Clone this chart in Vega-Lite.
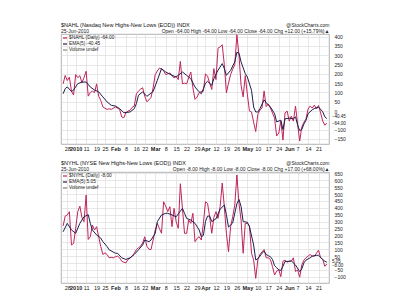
{
  "$schema": "https://vega.github.io/schema/vega-lite/v6.json",
  "padding": {"left": 60, "top": 21, "right": 0, "bottom": 0},
  "background": "white",
  "spacing": 7,
  "config": {
    "font": "Liberation Sans",
    "view": {"stroke": "#a0a0a0", "strokeWidth": 0.8},
    "axis": {"labelFontSize": 5.5, "labelColor": "#222222", "gridColor": "#dcdcdc", "gridWidth": 0.7, "domain": false, "ticks": false, "labelOverlap": false},
    "axisY": {"labelOverlap": false, "labelFontSize": 5},
    "legend": {"orient": "top-left", "offset": 0.5, "padding": 0, "rowPadding": 0, "labelFontSize": 4.8, "labelColor": "#222222", "symbolType": "stroke", "symbolSize": 16, "symbolStrokeWidth": 1.2, "labelOffset": 1, "title": null, "labelLimit": 200}
  },
  "resolve": {"scale": {"color": "independent", "x": "independent", "y": "independent"}, "legend": {"color": "independent"}},
  "datasets": {
    "nahl": [
      {"d":"2009-12-23","v":146},{"d":"2009-12-24","v":191},{"d":"2009-12-28","v":164},{"d":"2009-12-29","v":182},{"d":"2009-12-30","v":107},{"d":"2009-12-31","v":86},
      {"d":"2010-01-04","v":196},{"d":"2010-01-05","v":180},{"d":"2010-01-06","v":190},{"d":"2010-01-07","v":152},{"d":"2010-01-08","v":180},
      {"d":"2010-01-11","v":214},{"d":"2010-01-12","v":80},{"d":"2010-01-13","v":100},{"d":"2010-01-14","v":107},{"d":"2010-01-15","v":99},
      {"d":"2010-01-19","v":146},{"d":"2010-01-20","v":80},{"d":"2010-01-21","v":57},{"d":"2010-01-22","v":22},
      {"d":"2010-01-25","v":15},{"d":"2010-01-26","v":9},{"d":"2010-01-27","v":12},{"d":"2010-01-28","v":9},{"d":"2010-01-29","v":15},
      {"d":"2010-02-01","v":22},{"d":"2010-02-02","v":15},{"d":"2010-02-03","v":9},{"d":"2010-02-04","v":-32},{"d":"2010-02-05","v":-36},
      {"d":"2010-02-08","v":-9},{"d":"2010-02-09","v":0},{"d":"2010-02-10","v":4},{"d":"2010-02-11","v":20},{"d":"2010-02-12","v":27},
      {"d":"2010-02-16","v":93},{"d":"2010-02-17","v":107},{"d":"2010-02-18","v":118},{"d":"2010-02-19","v":125},
      {"d":"2010-02-22","v":80},{"d":"2010-02-23","v":50},{"d":"2010-02-24","v":60},{"d":"2010-02-25","v":73},{"d":"2010-02-26","v":125},
      {"d":"2010-03-01","v":196},{"d":"2010-03-02","v":215},{"d":"2010-03-03","v":231},{"d":"2010-03-04","v":225},{"d":"2010-03-05","v":217},
      {"d":"2010-03-08","v":196},{"d":"2010-03-09","v":200},{"d":"2010-03-10","v":205},{"d":"2010-03-11","v":190},{"d":"2010-03-12","v":178},
      {"d":"2010-03-15","v":187},{"d":"2010-03-16","v":169},{"d":"2010-03-17","v":267},{"d":"2010-03-18","v":146},{"d":"2010-03-19","v":150},
      {"d":"2010-03-22","v":146},{"d":"2010-03-23","v":180},{"d":"2010-03-24","v":210},{"d":"2010-03-25","v":125},{"d":"2010-03-26","v":63},
      {"d":"2010-03-29","v":75},{"d":"2010-03-30","v":99},{"d":"2010-03-31","v":105},{"d":"2010-04-01","v":107},
      {"d":"2010-04-05","v":200},{"d":"2010-04-06","v":187},{"d":"2010-04-07","v":150},{"d":"2010-04-08","v":116},{"d":"2010-04-09","v":228},
      {"d":"2010-04-12","v":169},{"d":"2010-04-13","v":338},{"d":"2010-04-14","v":345},{"d":"2010-04-15","v":356},{"d":"2010-04-16","v":249},
      {"d":"2010-04-19","v":98},{"d":"2010-04-20","v":150},{"d":"2010-04-21","v":196},{"d":"2010-04-22","v":225},{"d":"2010-04-23","v":249},
      {"d":"2010-04-26","v":410},{"d":"2010-04-27","v":300},{"d":"2010-04-28","v":138},{"d":"2010-04-29","v":76},{"d":"2010-04-30","v":190},
      {"d":"2010-05-03","v":90},{"d":"2010-05-04","v":0},{"d":"2010-05-05","v":-5},{"d":"2010-05-06","v":-60},{"d":"2010-05-07","v":-110},
      {"d":"2010-05-10","v":-18},{"d":"2010-05-11","v":5},{"d":"2010-05-12","v":16},{"d":"2010-05-13","v":108},{"d":"2010-05-14","v":24},
      {"d":"2010-05-17","v":38},{"d":"2010-05-18","v":16},{"d":"2010-05-19","v":-10},{"d":"2010-05-20","v":-38},{"d":"2010-05-21","v":-134},
      {"d":"2010-05-24","v":-118},{"d":"2010-05-25","v":-54},{"d":"2010-05-26","v":-156},{"d":"2010-05-27","v":-10},{"d":"2010-05-28","v":0},
      {"d":"2010-06-01","v":-54},{"d":"2010-06-02","v":-27},{"d":"2010-06-03","v":-54},{"d":"2010-06-04","v":27},
      {"d":"2010-06-07","v":-70},{"d":"2010-06-08","v":-161},{"d":"2010-06-09","v":-86},{"d":"2010-06-10","v":-60},{"d":"2010-06-11","v":-43},
      {"d":"2010-06-14","v":11},{"d":"2010-06-15","v":27},{"d":"2010-06-16","v":16},{"d":"2010-06-17","v":32},{"d":"2010-06-18","v":11},
      {"d":"2010-06-21","v":30},{"d":"2010-06-22","v":-10},{"d":"2010-06-23","v":-54},{"d":"2010-06-24","v":-76},{"d":"2010-06-25","v":-64}
    ],
    "nahlEma": [
      {"d":"2009-12-23","v":93},{"d":"2009-12-24","v":120},{"d":"2009-12-28","v":130},{"d":"2009-12-30","v":105},{"d":"2009-12-31","v":113},
      {"d":"2010-01-05","v":147},{"d":"2010-01-07","v":156},{"d":"2010-01-11","v":156},{"d":"2010-01-13","v":129},{"d":"2010-01-15","v":113},
      {"d":"2010-01-20","v":103},{"d":"2010-01-22","v":76},{"d":"2010-01-26","v":49},{"d":"2010-01-28","v":31},{"d":"2010-02-01","v":27},
      {"d":"2010-02-03","v":13},{"d":"2010-02-05","v":-9},{"d":"2010-02-10","v":-5},{"d":"2010-02-12","v":13},{"d":"2010-02-16","v":40},
      {"d":"2010-02-17","v":85},{"d":"2010-02-19","v":103},{"d":"2010-02-23","v":79},{"d":"2010-02-26","v":105},{"d":"2010-03-02","v":165},
      {"d":"2010-03-04","v":228},{"d":"2010-03-08","v":210},{"d":"2010-03-11","v":192},{"d":"2010-03-15","v":183},{"d":"2010-03-18","v":210},
      {"d":"2010-03-22","v":192},{"d":"2010-03-24","v":174},{"d":"2010-03-26","v":129},{"d":"2010-03-30","v":103},{"d":"2010-03-31","v":93},
      {"d":"2010-04-01","v":120},{"d":"2010-04-05","v":150},{"d":"2010-04-06","v":160},{"d":"2010-04-08","v":138},{"d":"2010-04-09","v":174},
      {"d":"2010-04-13","v":219},{"d":"2010-04-15","v":255},{"d":"2010-04-16","v":228},{"d":"2010-04-19","v":192},{"d":"2010-04-21","v":219},
      {"d":"2010-04-23","v":264},{"d":"2010-04-26","v":316},{"d":"2010-04-27","v":311},{"d":"2010-04-28","v":264},{"d":"2010-04-30","v":201},
      {"d":"2010-05-03","v":183},{"d":"2010-05-05","v":111},{"d":"2010-05-06","v":22},{"d":"2010-05-07","v":-5},{"d":"2010-05-10","v":-5},
      {"d":"2010-05-11","v":13},{"d":"2010-05-13","v":60},{"d":"2010-05-14","v":45},{"d":"2010-05-18","v":22},{"d":"2010-05-20","v":-14},
      {"d":"2010-05-21","v":-58},{"d":"2010-05-25","v":-49},{"d":"2010-05-26","v":-100},{"d":"2010-05-27","v":-42},{"d":"2010-06-01","v":-38},
      {"d":"2010-06-03","v":-42},{"d":"2010-06-04","v":-31},{"d":"2010-06-07","v":-74},{"d":"2010-06-08","v":-105},{"d":"2010-06-09","v":-100},
      {"d":"2010-06-10","v":-70},{"d":"2010-06-11","v":-50},{"d":"2010-06-14","v":-14},{"d":"2010-06-16","v":7},{"d":"2010-06-17","v":13},
      {"d":"2010-06-21","v":22},{"d":"2010-06-23","v":-4},{"d":"2010-06-24","v":-31},{"d":"2010-06-25","v":-40.45}
    ],
    "nahlLastEma": [{"d":"2010-06-25","v":-40.45}],
    "nahlLastRaw": [{"d":"2010-06-25","v":-64}],
    "nyhl": [
      {"d":"2009-12-23","v":268},{"d":"2009-12-24","v":340},{"d":"2009-12-28","v":348},{"d":"2009-12-29","v":372},{"d":"2009-12-30","v":130},{"d":"2009-12-31","v":141},
      {"d":"2010-01-04","v":250},{"d":"2010-01-05","v":372},{"d":"2010-01-06","v":412},{"d":"2010-01-07","v":330},{"d":"2010-01-08","v":299},
      {"d":"2010-01-11","v":493},{"d":"2010-01-12","v":170},{"d":"2010-01-13","v":190},{"d":"2010-01-14","v":275},{"d":"2010-01-15","v":239},
      {"d":"2010-01-19","v":263},{"d":"2010-01-20","v":190},{"d":"2010-01-21","v":119},{"d":"2010-01-22","v":61},
      {"d":"2010-01-25","v":73},{"d":"2010-01-26","v":61},{"d":"2010-01-27","v":37},{"d":"2010-01-28","v":40},{"d":"2010-01-29","v":37},
      {"d":"2010-02-01","v":45},{"d":"2010-02-02","v":49},{"d":"2010-02-03","v":37},{"d":"2010-02-04","v":12},{"d":"2010-02-05","v":5},
      {"d":"2010-02-08","v":0},{"d":"2010-02-09","v":25},{"d":"2010-02-10","v":35},{"d":"2010-02-11","v":49},{"d":"2010-02-12","v":70},
      {"d":"2010-02-16","v":97},{"d":"2010-02-17","v":110},{"d":"2010-02-18","v":121},{"d":"2010-02-19","v":145},
      {"d":"2010-02-22","v":190},{"d":"2010-02-23","v":121},{"d":"2010-02-24","v":99},{"d":"2010-02-25","v":97},{"d":"2010-02-26","v":166},
      {"d":"2010-03-01","v":239},{"d":"2010-03-02","v":287},{"d":"2010-03-03","v":250},{"d":"2010-03-04","v":215},{"d":"2010-03-05","v":444},
      {"d":"2010-03-08","v":412},{"d":"2010-03-09","v":372},{"d":"2010-03-10","v":408},{"d":"2010-03-11","v":263},{"d":"2010-03-12","v":396},
      {"d":"2010-03-15","v":300},{"d":"2010-03-16","v":251},{"d":"2010-03-17","v":575},{"d":"2010-03-18","v":396},{"d":"2010-03-19","v":215},
      {"d":"2010-03-22","v":215},{"d":"2010-03-23","v":311},{"d":"2010-03-24","v":287},{"d":"2010-03-25","v":360},{"d":"2010-03-26","v":154},
      {"d":"2010-03-29","v":178},{"d":"2010-03-30","v":190},{"d":"2010-03-31","v":166},{"d":"2010-04-01","v":287},
      {"d":"2010-04-05","v":444},{"d":"2010-04-06","v":432},{"d":"2010-04-07","v":335},{"d":"2010-04-08","v":215},{"d":"2010-04-09","v":330},
      {"d":"2010-04-12","v":372},{"d":"2010-04-13","v":323},{"d":"2010-04-14","v":408},{"d":"2010-04-15","v":580},{"d":"2010-04-16","v":408},
      {"d":"2010-04-19","v":215},{"d":"2010-04-20","v":81},{"d":"2010-04-21","v":263},{"d":"2010-04-22","v":335},{"d":"2010-04-23","v":420},
      {"d":"2010-04-26","v":638},{"d":"2010-04-27","v":432},{"d":"2010-04-28","v":311},{"d":"2010-04-29","v":70},{"d":"2010-04-30","v":287},
      {"d":"2010-05-03","v":287},{"d":"2010-05-04","v":270},{"d":"2010-05-05","v":70},{"d":"2010-05-06","v":22},{"d":"2010-05-07","v":-112},
      {"d":"2010-05-10","v":22},{"d":"2010-05-11","v":61},{"d":"2010-05-12","v":80},{"d":"2010-05-13","v":97},{"d":"2010-05-14","v":37},
      {"d":"2010-05-17","v":37},{"d":"2010-05-18","v":25},{"d":"2010-05-19","v":-27},{"d":"2010-05-20","v":-88},{"d":"2010-05-21","v":-60},
      {"d":"2010-05-24","v":-51},{"d":"2010-05-25","v":-100},{"d":"2010-05-26","v":12},{"d":"2010-05-27","v":20},{"d":"2010-05-28","v":5},
      {"d":"2010-06-01","v":12},{"d":"2010-06-02","v":12},{"d":"2010-06-03","v":37},{"d":"2010-06-04","v":-63},
      {"d":"2010-06-07","v":-51},{"d":"2010-06-08","v":-104},{"d":"2010-06-09","v":-15},{"d":"2010-06-10","v":20},{"d":"2010-06-11","v":37},
      {"d":"2010-06-14","v":49},{"d":"2010-06-15","v":61},{"d":"2010-06-16","v":49},{"d":"2010-06-17","v":49},{"d":"2010-06-18","v":70},
      {"d":"2010-06-21","v":92},{"d":"2010-06-22","v":37},{"d":"2010-06-23","v":25},{"d":"2010-06-24","v":-25},{"d":"2010-06-25","v":-8}
    ],
    "nyhlEma": [
      {"d":"2009-12-23","v":226},{"d":"2009-12-28","v":287},{"d":"2009-12-30","v":239},{"d":"2010-01-04","v":215},{"d":"2010-01-06","v":287},
      {"d":"2010-01-08","v":335},{"d":"2010-01-12","v":350},{"d":"2010-01-13","v":287},{"d":"2010-01-14","v":239},{"d":"2010-01-19","v":203},
      {"d":"2010-01-21","v":180},{"d":"2010-01-22","v":154},{"d":"2010-01-26","v":119},{"d":"2010-01-27","v":95},{"d":"2010-02-01","v":70},
      {"d":"2010-02-02","v":70},{"d":"2010-02-04","v":37},{"d":"2010-02-08","v":25},{"d":"2010-02-10","v":37},{"d":"2010-02-12","v":61},
      {"d":"2010-02-17","v":95},{"d":"2010-02-19","v":130},{"d":"2010-02-22","v":166},{"d":"2010-02-24","v":154},{"d":"2010-02-25","v":166},
      {"d":"2010-03-01","v":215},{"d":"2010-03-02","v":299},{"d":"2010-03-04","v":348},{"d":"2010-03-08","v":360},{"d":"2010-03-09","v":360},
      {"d":"2010-03-11","v":348},{"d":"2010-03-15","v":335},{"d":"2010-03-18","v":396},{"d":"2010-03-19","v":360},{"d":"2010-03-22","v":323},
      {"d":"2010-03-24","v":311},{"d":"2010-03-26","v":287},{"d":"2010-03-30","v":239},{"d":"2010-03-31","v":190},{"d":"2010-04-01","v":200},
      {"d":"2010-04-05","v":300},{"d":"2010-04-06","v":340},{"d":"2010-04-07","v":340},{"d":"2010-04-08","v":300},{"d":"2010-04-12","v":320},
      {"d":"2010-04-14","v":390},{"d":"2010-04-16","v":420},{"d":"2010-04-19","v":350},{"d":"2010-04-20","v":260},{"d":"2010-04-22","v":290},
      {"d":"2010-04-26","v":430},{"d":"2010-04-27","v":460},{"d":"2010-04-28","v":410},{"d":"2010-04-29","v":300},{"d":"2010-05-03","v":295},
      {"d":"2010-05-04","v":263},{"d":"2010-05-06","v":130},{"d":"2010-05-07","v":22},{"d":"2010-05-10","v":30},{"d":"2010-05-11","v":49},
      {"d":"2010-05-12","v":70},{"d":"2010-05-13","v":85},{"d":"2010-05-14","v":61},{"d":"2010-05-17","v":52},{"d":"2010-05-18","v":45},
      {"d":"2010-05-19","v":25},{"d":"2010-05-20","v":-20},{"d":"2010-05-21","v":-35},{"d":"2010-05-24","v":-51},{"d":"2010-05-25","v":-55},
      {"d":"2010-05-26","v":-25},{"d":"2010-05-27","v":10},{"d":"2010-06-01","v":12},{"d":"2010-06-02","v":15},{"d":"2010-06-04","v":-15},
      {"d":"2010-06-08","v":-63},{"d":"2010-06-09","v":-45},{"d":"2010-06-10","v":0},{"d":"2010-06-11","v":20},{"d":"2010-06-15","v":37},
      {"d":"2010-06-16","v":49},{"d":"2010-06-18","v":55},{"d":"2010-06-21","v":55},{"d":"2010-06-23","v":25},{"d":"2010-06-24","v":12},
      {"d":"2010-06-25","v":5.05}
    ],
    "nyhlLastEma": [{"d":"2010-06-25","v":5.05}],
    "nyhlLastRaw": [{"d":"2010-06-25","v":-8}]
  },
  "vconcat": [
    {
      "width": 268,
      "height": 110,
      "title": {"text": "$NAHL (Nasdaq New Highs-New Lows (EOD)) INDX", "subtitle": "25-Jun-2010", "anchor": "start", "fontSize": 5.5, "fontWeight": "normal", "color": "#111111", "subtitleFontSize": 5, "subtitleColor": "#222222", "subtitlePadding": 0.5, "offset": -11.5},
      "layer": [
        {
          "data": {"name": "nahl"},
          "mark": {"type": "line", "strokeWidth": 1},
          "encoding": {
            "x": {"field": "d", "type": "ordinal", "scale": {"type": "point", "padding": 1.3},
                  "axis": {"orient": "bottom", "title": null, "labelAngle": 0, "grid": true, "labelOverlap": false, "labelBound": false, "labelPadding": 2,
                           "values": ["2009-12-28","2010-01-04","2010-01-11","2010-01-19","2010-01-25","2010-02-01","2010-02-08","2010-02-16","2010-02-22","2010-03-01","2010-03-08","2010-03-15","2010-03-22","2010-03-29","2010-04-05","2010-04-12","2010-04-19","2010-04-26","2010-05-03","2010-05-10","2010-05-17","2010-05-24","2010-06-01","2010-06-07","2010-06-14","2010-06-21"],
                           "labelExpr": "+slice(datum.value,8) <= 5 ? (slice(datum.value,5,7) == '01' ? '2010' : ['Jan','Feb','Mar','Apr','May','Jun','Jul','Aug','Sep','Oct','Nov','Dec'][+slice(datum.value,5,7)-1]) : '' + (+slice(datum.value,8))",
                           "labelFontWeight": {"condition": {"test": "+slice(datum.value,8) <= 5", "value": "bold"}, "value": "normal"}}},
            "y": {"field": "v", "type": "quantitative", "scale": {"domain": [-177, 414], "nice": false, "zero": false},
                  "axis": {"orient": "right", "title": null, "grid": true, "labelPadding": 5, "labelFontSize": 5, "labelOverlap": false, "labelBound": false, "labelFlush": false, "values": [-150,-100,-50,0,50,100,150,200,250,300,350,400], "labelExpr": "datum.value == -50 ? '' : datum.label"}},
            "color": {"datum": "$NAHL (Daily) -64.00", "scale": {"domain": ["$NAHL (Daily) -64.00", "EMA(5) -40.45", "Volume undef"], "range": ["#c0245c", "#1e1e4e", "#888888"]}}
          }
        },
        {
          "data": {"name": "nahlLastEma"},
          "mark": {"type": "text", "align": "left", "dx": 5, "dy": -1.2, "fontSize": 4.5, "color": "#111111"},
          "encoding": {
            "x": {"field": "d", "type": "ordinal", "axis": null},
            "y": {"field": "v", "type": "quantitative", "axis": {"orient": "right", "title": null, "grid": true, "labelPadding": 5, "labelFontSize": 5, "labelOverlap": false, "labelBound": false, "labelFlush": false, "values": [-150,-100,-50,0,50,100,150,200,250,300,350,400], "labelExpr": "datum.value == -50 ? '' : datum.label"}},
            "text": {"field": "v", "type": "quantitative", "format": ".2f"}
          }
        },
        {
          "data": {"name": "nahlLastRaw"},
          "mark": {"type": "text", "align": "left", "dx": 5, "dy": 1.2, "fontSize": 4.5, "color": "#111111"},
          "encoding": {
            "x": {"field": "d", "type": "ordinal", "axis": null},
            "y": {"field": "v", "type": "quantitative", "axis": {"orient": "right", "title": null, "grid": true, "labelPadding": 5, "labelFontSize": 5, "labelOverlap": false, "labelBound": false, "labelFlush": false, "values": [-150,-100,-50,0,50,100,150,200,250,300,350,400], "labelExpr": "datum.value == -50 ? '' : datum.label"}},
            "text": {"field": "v", "type": "quantitative", "format": ".2f"}
          }
        },
        {
          "data": {"name": "nahlEma"},
          "mark": {"type": "line", "strokeWidth": 1},
          "encoding": {
            "x": {"field": "d", "type": "ordinal", "axis": {"orient": "top", "labels": false, "grid": false, "title": ["@StockCharts.com", "Open -64.00  High -64.00  Low -64.00  Close -64.00  Chg +12.00 (+15.79%)▲"], "titleAnchor": "end", "titleAlign": "right", "titleFontSize": 5, "titleFontWeight": "normal", "titleColor": "#222222", "titleLineHeight": 6, "titlePadding": 1}},
            "y": {"field": "v", "type": "quantitative", "axis": {"orient": "right", "title": null, "grid": true, "labelPadding": 5, "labelFontSize": 5, "labelOverlap": false, "labelBound": false, "labelFlush": false, "values": [-150,-100,-50,0,50,100,150,200,250,300,350,400], "labelExpr": "datum.value == -50 ? '' : datum.label"}},
            "color": {"datum": "EMA(5) -40.45"}
          }
        }
      ]
    },
    {
      "width": 268,
      "height": 111,
      "title": {"text": "$NYHL (NYSE New Highs-New Lows (EOD)) INDX", "subtitle": "25-Jun-2010", "anchor": "start", "fontSize": 5.5, "fontWeight": "normal", "color": "#111111", "subtitleFontSize": 5, "subtitleColor": "#222222", "subtitlePadding": 0.5, "offset": -11.5},
      "layer": [
        {
          "data": {"name": "nyhl"},
          "mark": {"type": "line", "strokeWidth": 1},
          "encoding": {
            "x": {"field": "d", "type": "ordinal", "scale": {"type": "point", "padding": 1.3},
                  "axis": {"orient": "bottom", "title": null, "labelAngle": 0, "grid": true, "labelOverlap": false, "labelBound": false, "labelPadding": 2,
                           "values": ["2009-12-28","2010-01-04","2010-01-11","2010-01-19","2010-01-25","2010-02-01","2010-02-08","2010-02-16","2010-02-22","2010-03-01","2010-03-08","2010-03-15","2010-03-22","2010-03-29","2010-04-05","2010-04-12","2010-04-19","2010-04-26","2010-05-03","2010-05-10","2010-05-17","2010-05-24","2010-06-01","2010-06-07","2010-06-14","2010-06-21"],
                           "labelExpr": "+slice(datum.value,8) <= 5 ? (slice(datum.value,5,7) == '01' ? '2010' : ['Jan','Feb','Mar','Apr','May','Jun','Jul','Aug','Sep','Oct','Nov','Dec'][+slice(datum.value,5,7)-1]) : '' + (+slice(datum.value,8))",
                           "labelFontWeight": {"condition": {"test": "+slice(datum.value,8) <= 5", "value": "bold"}, "value": "normal"}}},
            "y": {"field": "v", "type": "quantitative", "scale": {"domain": [-146, 660], "nice": false, "zero": false},
                  "axis": {"orient": "right", "title": null, "grid": true, "labelPadding": 5, "labelFontSize": 5, "labelOverlap": false, "labelBound": false, "labelFlush": false, "values": [-100,-50,0,50,100,150,200,250,300,350,400,450,500,550,600,650], "labelExpr": "datum.value == 0 ? '' : datum.label"}},
            "color": {"datum": "$NYHL (Daily) -8.00", "scale": {"domain": ["$NYHL (Daily) -8.00", "EMA(5) 5.05", "Volume undef"], "range": ["#c0245c", "#1e1e4e", "#888888"]}}
          }
        },
        {
          "data": {"name": "nyhlLastEma"},
          "mark": {"type": "text", "align": "left", "dx": 5, "dy": -0.5, "fontSize": 4.5, "color": "#111111"},
          "encoding": {
            "x": {"field": "d", "type": "ordinal", "axis": null},
            "y": {"field": "v", "type": "quantitative", "axis": {"orient": "right", "title": null, "grid": true, "labelPadding": 5, "labelFontSize": 5, "labelOverlap": false, "labelBound": false, "labelFlush": false, "values": [-100,-50,0,50,100,150,200,250,300,350,400,450,500,550,600,650], "labelExpr": "datum.value == 0 ? '' : datum.label"}},
            "text": {"field": "v", "type": "quantitative", "format": ".2f"}
          }
        },
        {
          "data": {"name": "nyhlLastRaw"},
          "mark": {"type": "text", "align": "left", "dx": 5, "dy": 2.2, "fontSize": 4.5, "color": "#111111"},
          "encoding": {
            "x": {"field": "d", "type": "ordinal", "axis": null},
            "y": {"field": "v", "type": "quantitative", "axis": {"orient": "right", "title": null, "grid": true, "labelPadding": 5, "labelFontSize": 5, "labelOverlap": false, "labelBound": false, "labelFlush": false, "values": [-100,-50,0,50,100,150,200,250,300,350,400,450,500,550,600,650], "labelExpr": "datum.value == 0 ? '' : datum.label"}},
            "text": {"field": "v", "type": "quantitative", "format": ".2f"}
          }
        },
        {
          "data": {"name": "nyhlEma"},
          "mark": {"type": "line", "strokeWidth": 1},
          "encoding": {
            "x": {"field": "d", "type": "ordinal", "axis": {"orient": "top", "labels": false, "grid": false, "title": ["@StockCharts.com", "Open -8.00  High -8.00  Low -8.00  Close -8.00  Chg +17.00 (+68.00%)▲"], "titleAnchor": "end", "titleAlign": "right", "titleFontSize": 5, "titleFontWeight": "normal", "titleColor": "#222222", "titleLineHeight": 6, "titlePadding": 1}},
            "y": {"field": "v", "type": "quantitative", "axis": {"orient": "right", "title": null, "grid": true, "labelPadding": 5, "labelFontSize": 5, "labelOverlap": false, "labelBound": false, "labelFlush": false, "values": [-100,-50,0,50,100,150,200,250,300,350,400,450,500,550,600,650], "labelExpr": "datum.value == 0 ? '' : datum.label"}},
            "color": {"datum": "EMA(5) 5.05"}
          }
        }
      ]
    }
  ]
}
